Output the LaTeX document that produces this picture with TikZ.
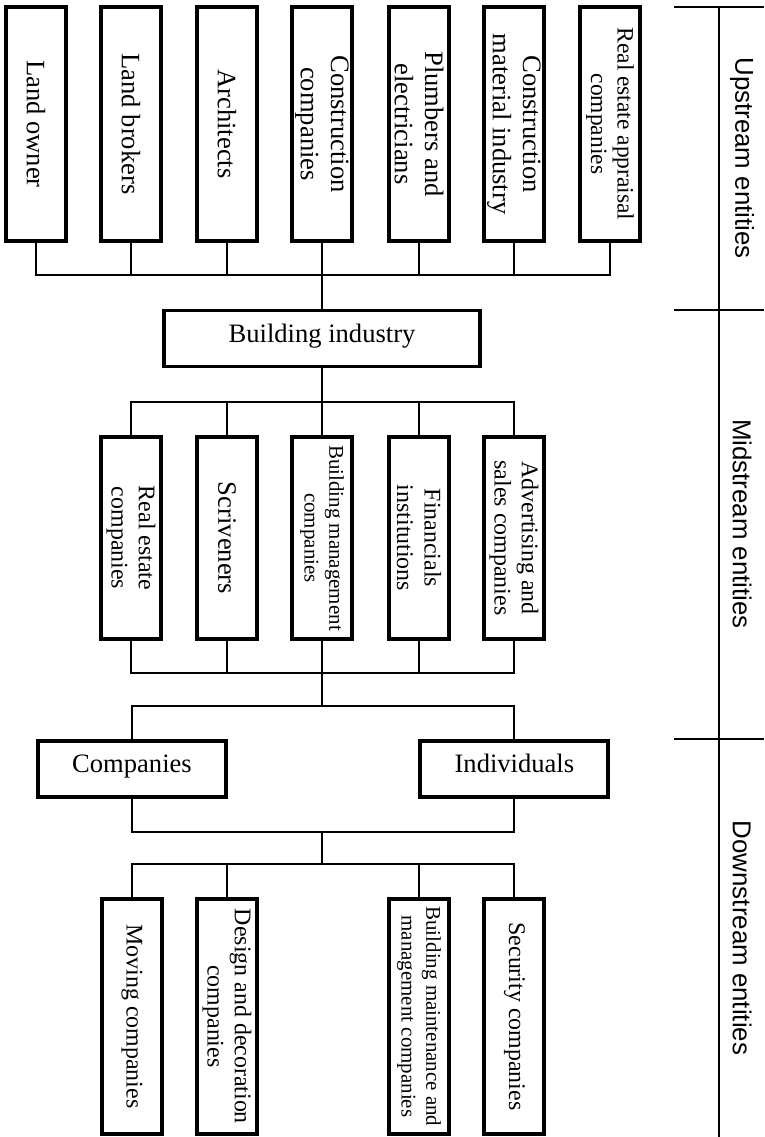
\documentclass[tikz,border=0pt]{standalone}
\usepackage{fontspec}
\setmainfont{Liberation Serif}
\newfontfamily\sidefont{Liberation Sans}

\tikzstyle{upBox} = [rectangle, rotate=-90, minimum width=5.85cm, minimum height=1.5cm, inner sep=1pt, align=center, draw=black, line width=2.8pt, font=\fontsize{18.9}{21.5}\selectfont]
\tikzstyle{midBox} = [upBox, minimum width=5.05cm, font=\fontsize{17}{19.5}\selectfont]
\tikzstyle{downBox} = [upBox, minimum width=5.875cm, font=\fontsize{17}{19.5}\selectfont]
\tikzstyle{flatBox} = [rectangle, minimum height=1.4cm, text height=1.6ex, text depth=0.5ex, align=center, draw=black, line width=2.8pt, font=\fontsize{18.9}{21.5}\selectfont]
\tikzstyle{connector} = [line width=1.4pt]
\tikzstyle{sideLabel} = [rotate=-90, font=\sidefont\fontsize{18.4}{20}\selectfont]

\begin{document}
\begin{tikzpicture}
    \useasboundingbox (0,0) rectangle (19.1,-28.425);

        % upstream
        \node (landOwner) [upBox] at (0.9,-3.1) {Land owner};
        \node (landBrokers) [upBox] at (3.275,-3.1) {Land brokers};
        \node (architects) [upBox] at (5.675,-3.1) {Architects};
        \node (construction) [upBox] at (8.05,-3.1) {Construction\\companies};
        \node (plumbers) [upBox] at (10.475,-3.1) {Plumbers and\\electricians};
        \node (materials) [upBox] at (12.85,-3.1) {Construction\\material industry};
        \node (appraisal) [upBox, font=\fontsize{16.7}{19}\selectfont] at (15.25,-3.1) {Real estate appraisal\\companies};

        \node (industry) [flatBox, minimum width=7.9cm] at (8.05,-8.4625) {Building industry};

        % midstream
        \node (realEstate) [midBox] at (3.275,-13.45) {Real estate\\companies};
        \node (scriveners) [midBox, font=\fontsize{18.9}{21.5}\selectfont] at (5.675,-13.45) {Scriveners};
        \node (management) [midBox, font=\fontsize{14.9}{17.5}\selectfont] at (8.05,-13.45) {Building management\\companies};
        \node (financials) [midBox] at (10.475,-13.45) {Financials\\institutions};
        \node (advertising) [midBox] at (12.85,-13.45) {Advertising and\\sales companies};

        \node (companies) [flatBox, minimum width=4.7cm] at (3.3,-19.225) {Companies};
        \node (individuals) [flatBox, minimum width=4.7cm] at (12.86,-19.225) {Individuals};

        % downstream
        \node (moving) [downBox] at (3.3,-25.41) {Moving companies};
        \node (design) [downBox] at (5.675,-25.41) {Design and decoration\\companies};
        \node (maintenance) [downBox, font=\fontsize{14.9}{17.5}\selectfont] at (10.475,-25.41) {Building maintenance and\\management companies};
        \node (security) [downBox] at (12.86,-25.41) {Security companies};

        \coordinate (upBus) at (8.05,-6.875);
        \coordinate (midTopBus) at (8.05,-10.05);
        \coordinate (midLowBus) at (8.05,-16.825);
        \coordinate (splitBus) at (8.05,-17.65);
        \coordinate (joinBus) at (8.05,-20.8);
        \coordinate (downBus) at (8.05,-21.6);

        \draw[connector] (landOwner) |- (upBus);
        \draw[connector] (landBrokers) |- (upBus);
        \draw[connector] (architects) |- (upBus);
        \draw[connector] (plumbers) |- (upBus);
        \draw[connector] (materials) |- (upBus);
        \draw[connector] (appraisal) |- (upBus);
        \draw[connector] (construction) -- (industry);

        \draw[connector] (industry) -- (management);
        \draw[connector] (realEstate) |- (midTopBus);
        \draw[connector] (scriveners) |- (midTopBus);
        \draw[connector] (financials) |- (midTopBus);
        \draw[connector] (advertising) |- (midTopBus);

        \draw[connector] (realEstate) |- (midLowBus);
        \draw[connector] (scriveners) |- (midLowBus);
        \draw[connector] (financials) |- (midLowBus);
        \draw[connector] (advertising) |- (midLowBus);
        \draw[connector] (management) -- (splitBus);
        \draw[connector] (companies) |- (splitBus);
        \draw[connector] (individuals) |- (splitBus);

        \draw[connector] (companies) |- (joinBus);
        \draw[connector] (individuals) |- (joinBus);
        \draw[connector] (joinBus) -- (downBus);
        \draw[connector] (moving) |- (downBus);
        \draw[connector] (design) |- (downBus);
        \draw[connector] (maintenance) |- (downBus);
        \draw[connector] (security) |- (downBus);

        % stages on the right
        \coordinate (ruleTop) at (17.975,-0.175);
        \coordinate (ruleBottom) at (17.975,-28.425);
        \coordinate (tickOne) at (16.85,-0.175);
        \coordinate (tickTwo) at (16.85,-7.75);
        \coordinate (tickThree) at (16.85,-18.475);
        \draw[connector] (ruleTop) -- (ruleBottom);
        \draw[connector] (tickOne) -- +(2.25,0);
        \draw[connector] (tickTwo) -- +(2.25,0);
        \draw[connector] (tickThree) -- +(2.25,0);

        \node (upstream) [sideLabel] at (18.55,-3.95) {Upstream entities};
        \node (midstream) [sideLabel] at (18.55,-13.1) {Midstream entities};
        \node (downstream) [sideLabel] at (18.55,-23.45) {Downstream entities};

    \end{tikzpicture}
\end{document}
